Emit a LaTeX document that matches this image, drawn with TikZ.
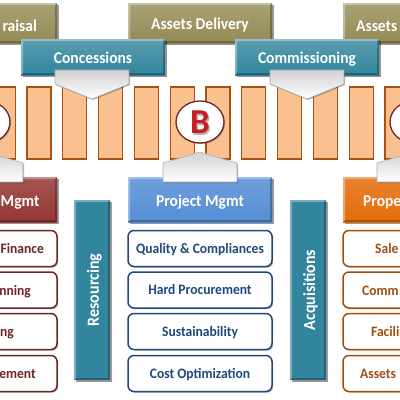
\documentclass[tikz,border=0pt]{standalone}
\usepackage{fontspec}
\setmainfont{Carlito}
\newfontfamily\dgfont[FakeStretch=0.94]{Carlito}
\usetikzlibrary{shadows,shapes.geometric}
\definecolor{cOlive}{RGB}{148,138,84}
\definecolor{cTeal}{RGB}{49,133,156}
\definecolor{cRed}{RGB}{149,55,53}
\definecolor{cBlue}{RGB}{85,142,213}
\definecolor{cOrange}{RGB}{228,108,10}
\definecolor{cBarFill}{RGB}{250,192,144}
\definecolor{cBarLine}{RGB}{170,82,20}
\definecolor{cRedDk}{RGB}{110,38,36}
\definecolor{cBlueDk}{RGB}{31,73,125}
\definecolor{cOrangeDk}{RGB}{160,78,15}
\definecolor{cBLetter}{RGB}{200,30,35}
\tikzset{
  bevel/.style={path picture={
    \fill[white,opacity=.35] (path picture bounding box.south west) -- (path picture bounding box.north west) -- (path picture bounding box.north east) -- ([shift={(-2pt,-2pt)}]path picture bounding box.north east) -- ([shift={(2pt,-2pt)}]path picture bounding box.north west) -- ([shift={(2pt,2pt)}]path picture bounding box.south west) -- cycle;
    \fill[black,opacity=.25] (path picture bounding box.south west) -- (path picture bounding box.south east) -- (path picture bounding box.north east) -- ([shift={(-2pt,-2pt)}]path picture bounding box.north east) -- ([shift={(-2pt,2pt)}]path picture bounding box.south east) -- ([shift={(2pt,2pt)}]path picture bounding box.south west) -- cycle;
  }},
  hfont/.style={font=\dgfont\bfseries\fontsize{16.5}{18}\selectfont},
  sfont/.style={font=\dgfont\bfseries\fontsize{14.4}{16}\selectfont},
  hdr/.style={rectangle, minimum width=144pt, minimum height=#1, inner sep=0pt, text=white,
    hfont, text height=13pt, text depth=0pt,
    drop shadow={shadow xshift=1.8pt, shadow yshift=-1.8pt, opacity=.4, fill=black}, bevel},
  hfrag/.style={inner sep=0pt, text=white, hfont},
  olivefill/.style={top color=cOlive!80!white, bottom color=cOlive},
  tealfill/.style={top color=cTeal!80!white, bottom color=cTeal},
  redfill/.style={top color=cRed!85!white, bottom color=cRed},
  bluefill/.style={top color=cBlue!85!white, bottom color=cBlue},
  orangefill/.style={top color=cOrange!85!white, bottom color=cOrange},
  barst/.style={fill=cBarFill, draw=cBarLine, line width=1.1pt},
  callout/.style={top color=gray!35!white, bottom color=white, draw=gray!65, line width=.6pt,
    drop shadow={shadow xshift=1pt, shadow yshift=-1pt, opacity=.3, fill=black}},
  circ/.style={ellipse, minimum width=48pt, minimum height=42pt, inner sep=0pt, fill=white, draw=cRedDk, line width=1.3pt,
    drop shadow={shadow xshift=1pt, shadow yshift=-1pt, opacity=.25, fill=black}},
  vbar/.style={rectangle, minimum width=36pt, minimum height=180pt, inner sep=0pt, fill=cTeal,
    drop shadow={shadow xshift=1.8pt, shadow yshift=-1.8pt, opacity=.4, fill=black}, bevel},
  vtext/.style={rotate=90, inner sep=0pt, text=white, font=\dgfont\bfseries\fontsize{17}{18}\selectfont, text height=14pt, text depth=0pt},
  subbox/.style={rectangle, rounded corners=6pt, minimum width=144pt, minimum height=36pt, inner sep=0pt,
    fill=white, line width=1.5pt, draw=#1, sfont,
    text height=9.8pt, text depth=0pt,
    drop shadow={shadow xshift=1.2pt, shadow yshift=-1.2pt, opacity=.3, fill=black}},
  sfrag/.style={inner sep=0pt, sfont, text=#1}
}
\begin{document}
\begin{tikzpicture}[x=1pt,y=-1pt]
\useasboundingbox (0,0) rectangle (400,400);
% top olive boxes
\node[hdr=40pt, olivefill] (ta) at (-15,23) {};
\node[hfrag, anchor=base east] (tat) at (37,31) {raisal};
\node[hdr=40pt, olivefill] (tb) at (200,23) {Assets Delivery};
\node[hdr=40pt, olivefill] (tc) at (415,23) {};
\node[hfrag, anchor=base west] (tct) at (356,31) {Assets};
% teal boxes
\node[hdr=36pt, tealfill] (con) at (93,57) {Concessions};
\node[hdr=36pt, tealfill] (com) at (307,57) {Commissioning};
% bars
\foreach \k in {-1,...,10} \draw[barst] ({27+35.8*\k},87) rectangle ++(24,72);
% down callouts
\foreach \c in {92,307} \path[callout] (\c-37,70) -- (\c+37,70) -- (\c+37,84) -- (\c,99) -- (\c-37,84) -- cycle;
% circles
\node[circ] (ca) at (-14,122) {};
\node[circ] (cb) at (200,122) {};
\node[circ] (cc) at (414,122) {};
\node[inner sep=0pt, text=gray!60, font=\bfseries\fontsize{35}{35}\selectfont, text height=22pt, text depth=0pt] (bsh) at (201.5,124) {B};
\node[inner sep=0pt, text=cBLetter, font=\bfseries\fontsize{35}{35}\selectfont, text height=22pt, text depth=0pt] (bl) at (200,122.5) {B};
% bottom headers
\node[hdr=45pt, redfill] (pa) at (-15,199.5) {};
\node[hfrag, anchor=base west] (pat) at (0.5,206) {Mgmt};
\node[hdr=45pt, bluefill] (pb) at (200,199.5) {Project Mgmt};
\node[hdr=45pt, orangefill] (pc) at (415,199.5) {};
\node[hfrag, anchor=base west] (pct) at (363,206) {Prope};
% up callouts
\foreach \c in {-14,200,414} \path[callout] (\c,152) -- (\c+37,163) -- (\c+37,182) -- (\c-37,182) -- (\c-37,163) -- cycle;
% vertical bars
\node[vbar] (res) at (92,290) {};
\node[vtext] (rest) at (res) {Resourcing};
\node[vbar] (acq) at (308,290) {};
\node[vtext] (acqt) at (acq) {Acquisitions};
% sub boxes: middle column
\node[subbox=cBlueDk, text=cBlueDk] (b1) at (200,248.5) {Quality \& Compliances};
\node[subbox=cBlueDk, text=cBlueDk] (b2) at (200,290) {Hard Procurement};
\node[subbox=cBlueDk, text=cBlueDk] (b3) at (200,331.5) {Sustainability};
\node[subbox=cBlueDk, text=cBlueDk] (b4) at (200,373.5) {Cost Optimization};
% left column
\node[subbox=cRedDk] (a1) at (-15,248.5) {};
\node[subbox=cRedDk] (a2) at (-15,290) {};
\node[subbox=cRedDk] (a3) at (-15,331.5) {};
\node[subbox=cRedDk] (a4) at (-15,373.5) {};
\node[sfrag=cRedDk, anchor=base east] (a1t) at (44,253.5) {Finance};
\node[sfrag=cRedDk, anchor=base east] (a2t) at (31,295) {nning};
\node[sfrag=cRedDk, anchor=base east] (a3t) at (14,336.5) {ng};
\node[sfrag=cRedDk, anchor=base east] (a4t) at (36,378.5) {ement};
% right column
\node[subbox=cOrangeDk] (c1) at (415,248.5) {};
\node[subbox=cOrangeDk] (c2) at (415,290) {};
\node[subbox=cOrangeDk] (c3) at (415,331.5) {};
\node[subbox=cOrangeDk] (c4) at (415,373.5) {};
\node[sfrag=cOrangeDk, anchor=base west] (c1t) at (375,253.5) {Sale};
\node[sfrag=cOrangeDk, anchor=base west] (c2t) at (362,295) {Comm};
\node[sfrag=cOrangeDk, anchor=base west] (c3t) at (371,336.5) {Facili};
\node[sfrag=cOrangeDk, anchor=base west] (c4t) at (360,378.5) {Assets};
\end{tikzpicture}
\end{document}
